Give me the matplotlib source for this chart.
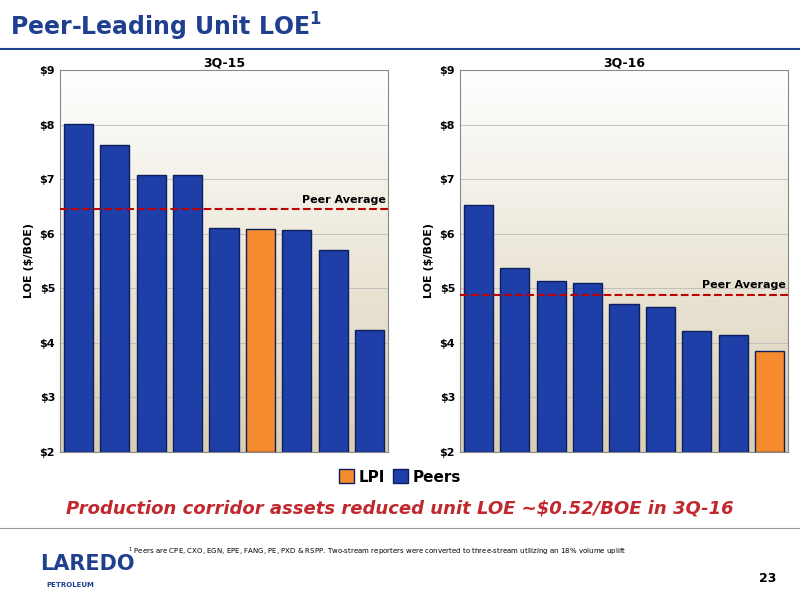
import numpy as np
import matplotlib.pyplot as plt
from matplotlib.colors import LinearSegmentedColormap

left_vals = [8.02, 7.62, 7.07, 7.07, 6.11, 6.09, 6.07, 5.71, 4.24]
left_lpi = 5
left_avg = 6.45
right_vals = [6.52, 5.37, 5.13, 5.09, 4.71, 4.66, 4.21, 4.15, 3.84]
right_lpi = 8
right_avg = 4.88
yticks = [2, 3, 4, 5, 6, 7, 8, 9]

BLUE = '#1f3fa8'
ORANGE = '#f58a2e'
fig = plt.figure(figsize=(8, 6), dpi=100)
fig.patch.set_facecolor('white')

fig.text(0.012, 0.955, r'Peer-Leading Unit LOE$^{\mathbf{1}}$', color='#1f3f8f', fontsize=17,
         fontweight='bold', va='center')
fig.add_artist(plt.Line2D([0, 1], [0.918, 0.918], color='#1f3f8f', lw=1.5))

grad = LinearSegmentedColormap.from_list('g', ['#ffffff', '#d9cfb4'])

def panel(rect, vals, lpi, avg, title):
    ax = fig.add_axes(rect)
    ax.imshow(np.linspace(0, 1, 100).reshape(-1, 1), cmap=grad, aspect='auto',
              extent=(-0.5, len(vals) - 0.5, 2, 9), zorder=0)
    colors = [ORANGE if i == lpi else BLUE for i in range(len(vals))]
    ax.bar(range(len(vals)), [v - 2 for v in vals], bottom=2, width=0.8,
           color=colors, edgecolor='#0d1f5c', lw=1, zorder=3)
    for y in yticks:
        ax.axhline(y, color='#bbbbbb', lw=0.6, zorder=1)
    ax.axhline(avg, color='#c00000', ls='--', lw=1.5, zorder=4)
    ax.text(len(vals) - 0.55, avg + 0.08, 'Peer Average', ha='right', va='bottom',
            fontsize=8, fontweight='bold', zorder=5)
    ax.set_xlim(-0.5, len(vals) - 0.5)
    ax.set_ylim(2, 9)
    ax.set_yticks(yticks)
    ax.set_yticklabels(['$%d' % y for y in yticks], fontsize=8, fontweight='bold')
    ax.set_xticks([])
    ax.tick_params(axis='y', length=0)
    ax.set_ylabel('LOE ($/BOE)', fontsize=8, fontweight='bold')
    ax.set_title(title, fontsize=9, fontweight='bold', pad=3)
    for s in ax.spines.values():
        s.set_color('#888888')
    return ax

panel([0.075, 0.247, 0.41, 0.636], left_vals, left_lpi, left_avg, '3Q-15')
panel([0.575, 0.247, 0.41, 0.636], right_vals, right_lpi, right_avg, '3Q-16')

h1 = plt.Rectangle((0, 0), 1, 1, fc=ORANGE, ec='#0d1f5c')
h2 = plt.Rectangle((0, 0), 1, 1, fc=BLUE, ec='#0d1f5c')
fig.legend([h1, h2], ['LPI', 'Peers'], loc='center', bbox_to_anchor=(0.5, 0.205),
           ncol=2, frameon=False, handlelength=1, handleheight=1,
           columnspacing=0.5, handletextpad=0.3, prop={'weight': 'bold', 'size': 11})

fig.text(0.5, 0.153, 'Production corridor assets reduced unit LOE ~$0.52/BOE in 3Q-16',
         ha='center', va='center', color='#c0282d', fontsize=13, fontweight='bold',
         style='italic')
fig.add_artist(plt.Line2D([0, 1], [0.12, 0.12], color='#999999', lw=0.8))
fig.text(0.16, 0.08, '$^{1}$ Peers are CPE, CXO, EGN, EPE, FANG, PE, PXD & RSPP. Two-stream reporters '
         'were converted to three-stream utilizing an 18% volume uplift', fontsize=5,
         va='center')
fig.text(0.05, 0.06, 'LAREDO', color='#1f3f8f', fontsize=15, fontweight='bold', va='center')
fig.text(0.058, 0.025, 'PETROLEUM', color='#1f3f8f', fontsize=5, fontweight='bold', va='center')
fig.text(0.97, 0.035, '23', fontsize=9, fontweight='bold', ha='right', va='center')

fig.savefig('out.png', dpi=100)
